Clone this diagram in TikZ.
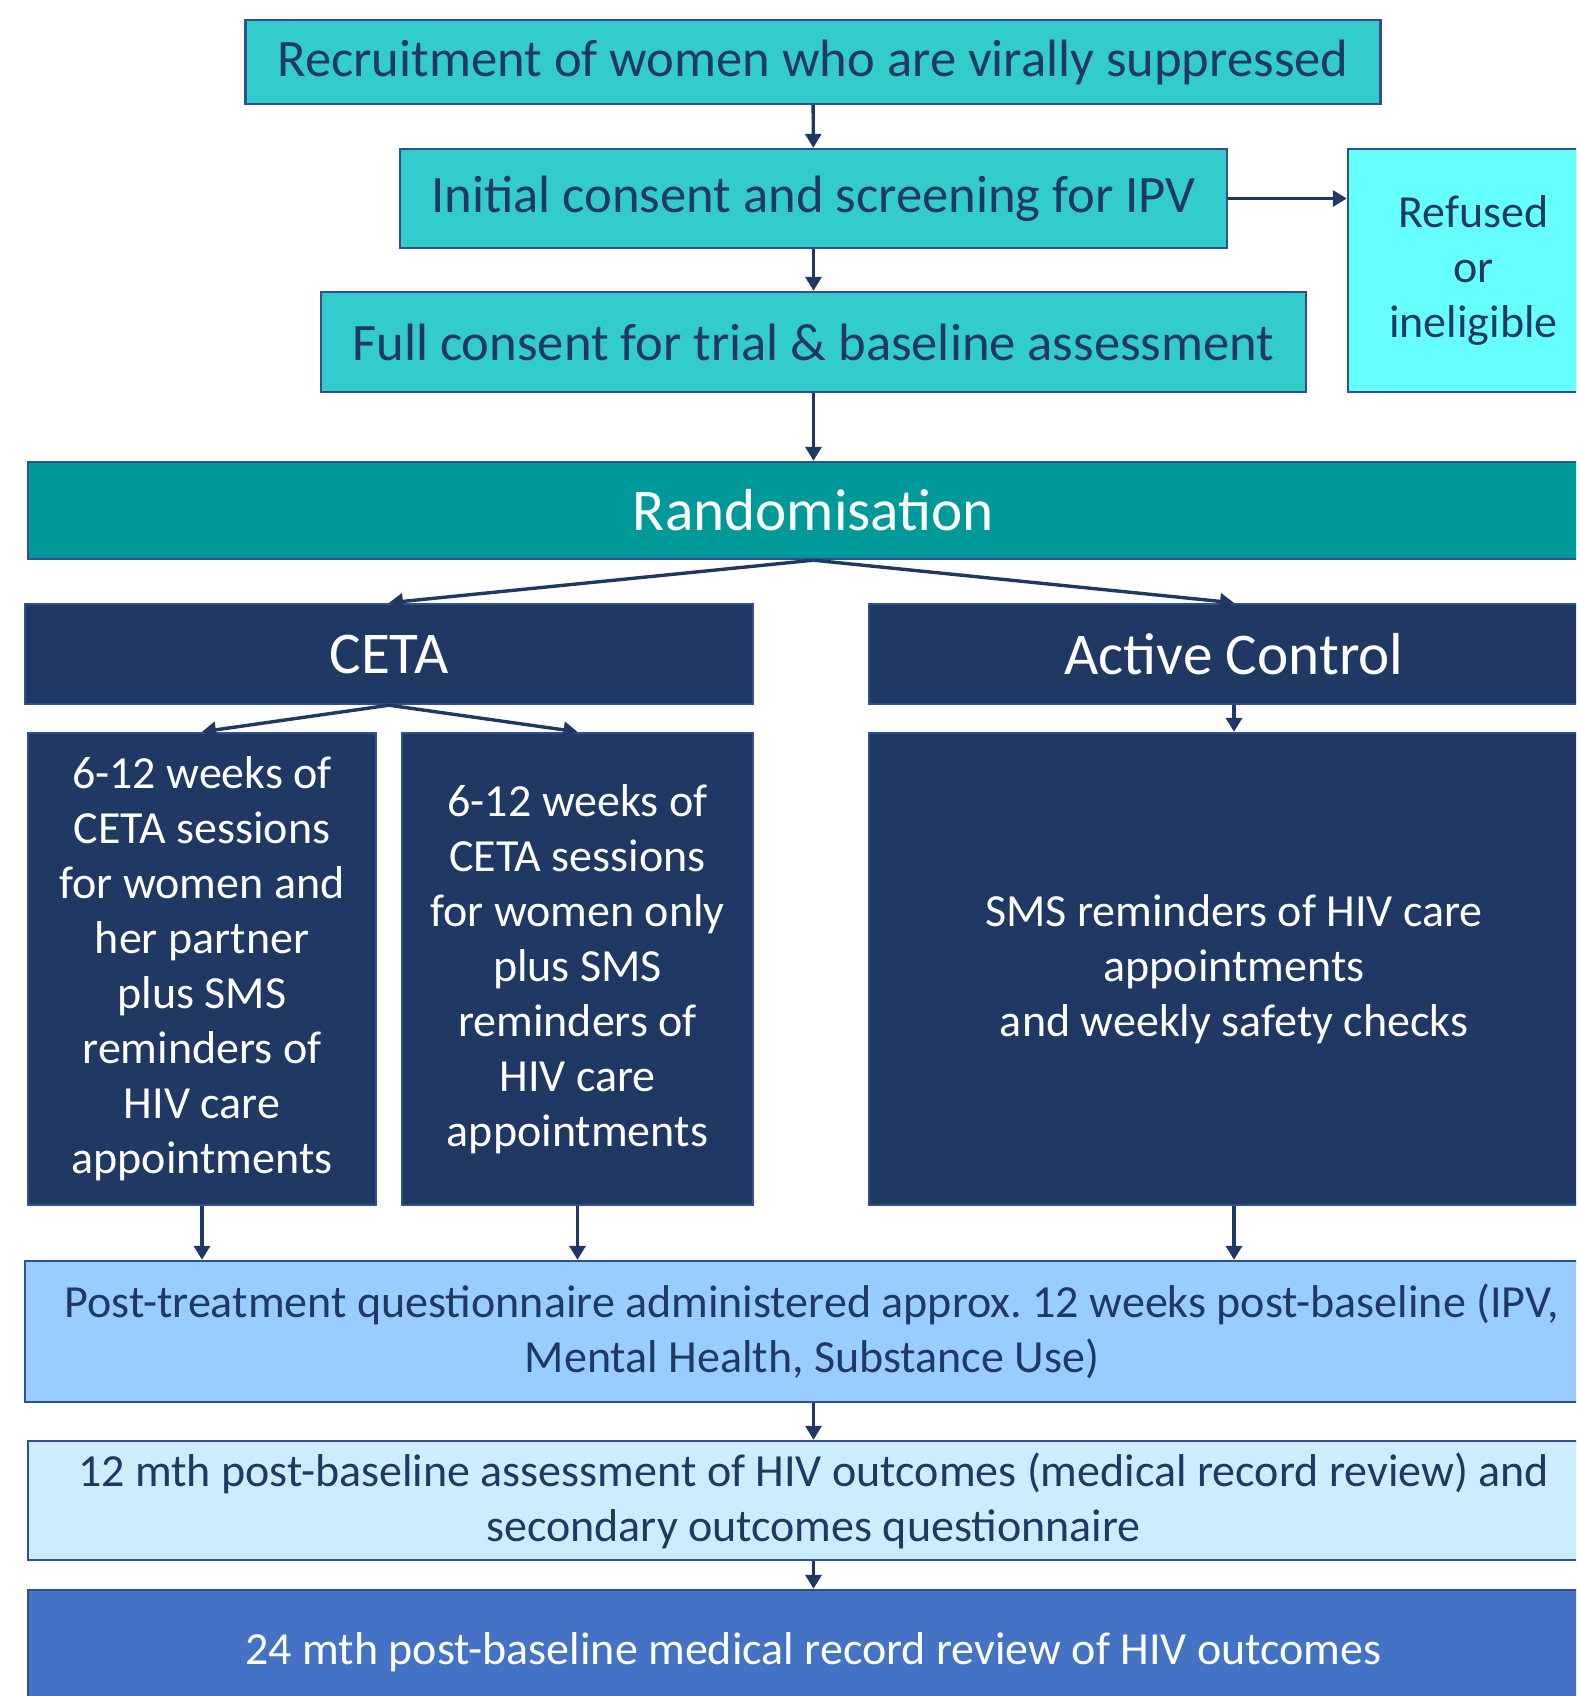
\documentclass[tikz,border=0pt]{standalone}
\usepackage{fontspec}
\setmainfont{Carlito}
\usetikzlibrary{arrows.meta}
\definecolor{navy}{HTML}{203864}
\definecolor{edge}{HTML}{2F528F}
\definecolor{tealA}{HTML}{33CCCC}
\definecolor{cyanA}{HTML}{66FFFF}
\definecolor{tealB}{HTML}{009999}
\definecolor{blueA}{HTML}{99CCFF}
\definecolor{blueB}{HTML}{CCECFF}
\definecolor{blueC}{HTML}{4472C4}
\frenchspacing

\begin{document}
\begin{tikzpicture}[x=0.5pt, y=-0.5pt,
  box/.style={rectangle, draw=edge, line width=1.2pt, inner sep=0pt, align=center, text=navy, font=\fontsize{23}{27.5}\selectfont},
  dark/.style={box, fill=navy, text=white},
  top/.style={box, fill=tealA, font=\fontsize{26.3}{31}\selectfont},
  big/.style={font=\fontsize{29.6}{35}\selectfont},
  arr/.style={-{Triangle[width=8pt,length=7pt]}, navy, line width=1.7pt}]
            \useasboundingbox (0,0) rectangle (1576,1696);
            \clip (0,0) rectangle (1576,1696);

            \node[top, minimum width=567.5pt, minimum height=41.75pt] (rec) at (813,62) {Recruitment of women who are virally suppressed};
            \node[top, minimum width=413.5pt, minimum height=49.5pt] (init) at (813.5,198.5) {Initial consent and screening for IPV};
            \node[top, minimum width=492.5pt, minimum height=50pt] (full) at (813.5,342) {Full consent for trial \& baseline assessment};
            \node[box, fill=cyanA, minimum width=125.5pt, minimum height=121.5pt] (ref) at (1473.5,270.5) {Refused\\or\\ineligible};
            \node[box, big, fill=tealB, text=white, minimum width=785.5pt, minimum height=48.5pt] (rand) at (813.5,510.5) {Randomisation};

            \node[dark, big, minimum width=364pt, minimum height=50pt] (ceta) at (389,654) {CETA};
            \node[dark, big, minimum width=365pt, minimum height=50pt] (ctrl) at (1234,654) {Active Control};
            \node[dark, minimum width=174pt, minimum height=236pt] (s1) at (202,969) {6-12 weeks of\\CETA sessions\\for women and\\her partner\\plus SMS\\reminders of\\HIV care\\appointments};
            \node[dark, minimum width=175.5pt, minimum height=236pt] (s2) at (577.5,969) {6-12 weeks of\\CETA sessions\\for women only\\plus SMS\\reminders of\\HIV care\\appointments};
            \node[dark, minimum width=365pt, minimum height=236pt] (sms) at (1234,969) {SMS reminders of HIV care\\appointments\\and weekly safety checks};

            \node[box, fill=blueA, minimum width=787pt, minimum height=70.5pt] (post) at (812,1331.5) {Post-treatment questionnaire administered approx. 12 weeks post-baseline (IPV,\\Mental Health, Substance Use)};
            \node[box, fill=blueB, minimum width=785.5pt, minimum height=59.5pt] (m12) at (813.5,1500.5) {12 mth post-baseline assessment of HIV outcomes (medical record review) and\\secondary outcomes questionnaire};
            \node[box, fill=blueC, text=white, minimum width=785.5pt, minimum height=62pt] (m24) at (813.5,1652) {24 mth post-baseline medical record review of HIV outcomes};

            \draw[arr] (rec) -- (init);
            \draw[arr] (init) -- (full);
            \draw[arr] (full) -- (rand);
            \draw[arr] (init.east) -- (init.east -| ref.west);
            \draw[arr] (rand.south) -- (ceta.north);
            \draw[arr] (rand.south) -- (ctrl.north);
            \draw[arr] (ceta.south) -- (s1.north);
            \draw[arr] (ceta.south) -- (s2.north);
            \draw[arr] (ctrl) -- (sms);
            \foreach \b in {s1,s2,sms} {
                \draw[arr] (\b.south) -- (\b.south |- post.north);
            }
            \draw[arr] (post.south -| m12) -- (m12.north);
            \draw[arr] (m12) -- (m24);

        \end{tikzpicture}
\end{document}
